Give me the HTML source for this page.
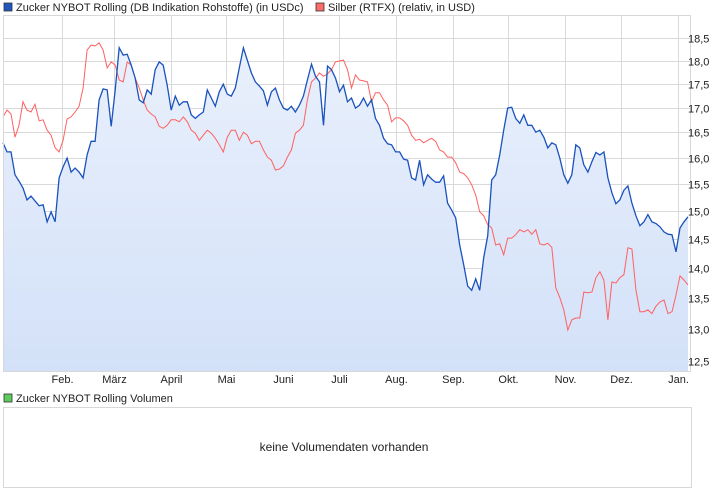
<!DOCTYPE html>
<html><head><meta charset="utf-8"><style>
body{margin:0;background:#fff;width:726px;height:496px;overflow:hidden;font-family:"Liberation Sans",sans-serif}
svg text{font-family:"Liberation Sans",sans-serif;font-size:11px;fill:#222}
</style></head><body>
<svg id="c" width="726" height="496" xmlns="http://www.w3.org/2000/svg">
<defs><linearGradient id="fg" x1="0" y1="0" x2="0" y2="1"><stop offset="0" stop-color="#e9f0fc"/><stop offset="1" stop-color="#d3e1f8"/></linearGradient></defs>
<g>
<rect x="4" y="3" width="8" height="8" fill="#1f56c0" stroke="#333" stroke-width="0.8"/>
<text x="16" y="11">Zucker NYBOT Rolling (DB Indikation Rohstoffe) (in USDc)</text>
<rect x="316" y="3" width="8" height="8" fill="#ff6b6b" stroke="#333" stroke-width="0.8"/>
<text x="328" y="11">Silber (RTFX) (relativ, in USD)</text>
</g>
<g id="grid"></g>
<path id="area" fill="url(#fg)"/>
<polyline id="red" fill="none" stroke="#ff6060" stroke-width="1"/>
<polyline id="blue" fill="none" stroke="#1a52bd" stroke-width="1.3"/>
<rect x="3.5" y="15.5" width="687" height="356" fill="none" stroke="#d8d8d8"/>
<g id="yax"></g>
<g id="xax"></g>
<rect x="4" y="394" width="8" height="8" fill="#5ccc5c" stroke="#333" stroke-width="0.8"/>
<text x="16" y="402">Zucker NYBOT Rolling Volumen</text>
<rect x="3.5" y="407.5" width="688" height="80" fill="#fff" stroke="#d8d8d8"/>
<text x="344" y="451" text-anchor="middle" font-size="12" style="font-size:12px">keine Volumendaten vorhanden</text>
</svg>
<script>
const zucker=[16.29,16.11,16.11,15.67,15.55,15.42,15.20,15.27,15.18,15.09,15.11,14.80,14.98,14.80,15.61,15.82,15.99,15.72,15.80,15.72,15.61,16.05,16.32,16.32,17.16,17.39,17.37,16.62,17.37,18.28,18.12,18.14,17.90,17.62,17.16,17.10,17.37,17.28,17.80,17.97,17.90,17.47,16.95,17.24,17.05,17.12,17.12,16.85,16.78,16.85,16.91,17.37,17.20,17.03,17.33,17.49,17.28,17.24,17.41,17.84,18.28,18.00,17.73,17.54,17.45,17.35,17.05,17.33,17.41,17.16,16.99,16.95,17.03,16.91,17.05,17.24,17.58,17.92,17.66,17.54,16.64,17.88,17.80,17.62,17.33,17.47,17.12,17.20,16.99,17.05,17.20,17.03,17.16,16.78,16.64,16.38,16.27,16.25,16.11,16.11,15.97,15.95,15.61,15.57,15.95,15.48,15.67,15.59,15.53,15.53,15.65,15.14,15.01,14.87,14.39,14.05,13.69,13.62,13.81,13.62,14.17,14.55,15.57,15.67,16.05,16.54,16.99,17.01,16.78,16.68,16.85,16.64,16.64,16.50,16.54,16.40,16.19,16.29,16.25,15.99,15.67,15.51,15.67,16.25,16.19,15.86,15.72,15.92,16.10,16.05,16.11,15.61,15.33,15.13,15.20,15.38,15.46,15.14,14.91,14.73,14.80,14.93,14.80,14.77,14.71,14.62,14.58,14.57,14.27,14.69,14.80,14.89];
const silber=[16.81,16.95,16.87,16.40,16.64,17.12,16.95,16.91,17.07,16.73,16.75,16.54,16.44,16.19,16.11,16.34,16.77,16.81,16.91,17.03,17.41,18.23,18.34,18.32,18.39,18.23,17.84,17.97,17.90,17.58,17.54,17.97,17.90,17.62,17.41,17.16,16.95,16.87,16.81,16.62,16.58,16.64,16.75,16.75,16.71,16.81,16.71,16.54,16.48,16.34,16.44,16.54,16.48,16.38,16.25,16.11,16.40,16.54,16.54,16.34,16.50,16.44,16.27,16.32,16.32,16.15,16.01,15.95,15.76,15.78,15.84,16.01,16.15,16.48,16.54,16.64,17.16,17.54,17.62,17.73,17.66,17.71,17.80,17.97,17.99,18.01,17.80,17.41,17.69,17.58,17.56,17.54,17.12,17.31,17.31,17.16,17.05,16.71,16.79,16.79,16.73,16.64,16.44,16.34,16.36,16.29,16.34,16.38,16.32,16.15,16.11,16.01,16.01,15.90,15.72,15.69,15.61,15.48,15.29,14.98,14.91,14.75,14.69,14.39,14.41,14.22,14.51,14.51,14.57,14.66,14.62,14.66,14.58,14.66,14.41,14.39,14.42,14.35,13.66,13.50,13.30,12.98,13.14,13.17,13.17,13.59,13.58,13.59,13.83,13.93,13.79,13.14,13.76,13.74,13.83,13.88,14.34,14.32,13.63,13.27,13.27,13.30,13.24,13.36,13.43,13.46,13.24,13.27,13.54,13.86,13.79,13.71];
const yTicks=[18.5,18.0,17.5,17.0,16.5,16.0,15.5,15.0,14.5,14.0,13.5,13.0,12.5];
const months=["Feb.","März","April","Mai","Juni","Juli","Aug.","Sep.","Okt.","Nov.","Dez.","Jan."];
const monthStartDay=[31,59,90,120,151,181,212,243,273,304,334,365];
const NS="http://www.w3.org/2000/svg";
const X0=3,X1=688,TOTAL_DAYS=372;
function xIdx(i,n){return X0+i*(X1-X0)/(n-1);}
function xDay(d){return X0+d*(X1-X0)/TOTAL_DAYS*1.0 - 0;}
function y(v){return 361-(Math.log(v)-Math.log(12.5))/0.392*323;}
function mk(t,a,p){const e=document.createElementNS(NS,t);for(const k in a)e.setAttribute(k,a[k]);p.appendChild(e);return e;}
const grid=document.getElementById('grid'),yax=document.getElementById('yax'),xax=document.getElementById('xax');
yTicks.forEach(v=>{const yy=Math.round(y(v))+0.5;
 const l=mk('line',{x1:3,x2:690,y1:yy,y2:yy,stroke:'#d9d9d9'},grid);
 
 
 const t=mk('text',{x:688,y:yy+4},yax);t.textContent=v.toFixed(1).replace('.',',');
 
 });
months.forEach((m,i)=>{const xx=Math.round(62+(monthStartDay[i]-31)*(678-62)/(365-31))+0.5;
 const l=mk('line',{x1:xx,x2:xx,y1:15,y2:371,stroke:'#d9d9d9'},grid);
 
 
 const t=mk('text',{x:xx,y:383,'text-anchor':'middle'},xax);t.textContent=m;
 
 });
function pts(a){return a.map((v,i)=>xIdx(i,a.length).toFixed(1)+','+y(v).toFixed(1)).join(' ');}
document.getElementById('blue').setAttribute('points',pts(zucker));
document.getElementById('red').setAttribute('points',pts(silber));
document.getElementById('area').setAttribute('d','M'+X0+',371 L'+pts(zucker).split(' ').join(' L')+' L'+X1+',371 Z');
</script>
</body></html>
